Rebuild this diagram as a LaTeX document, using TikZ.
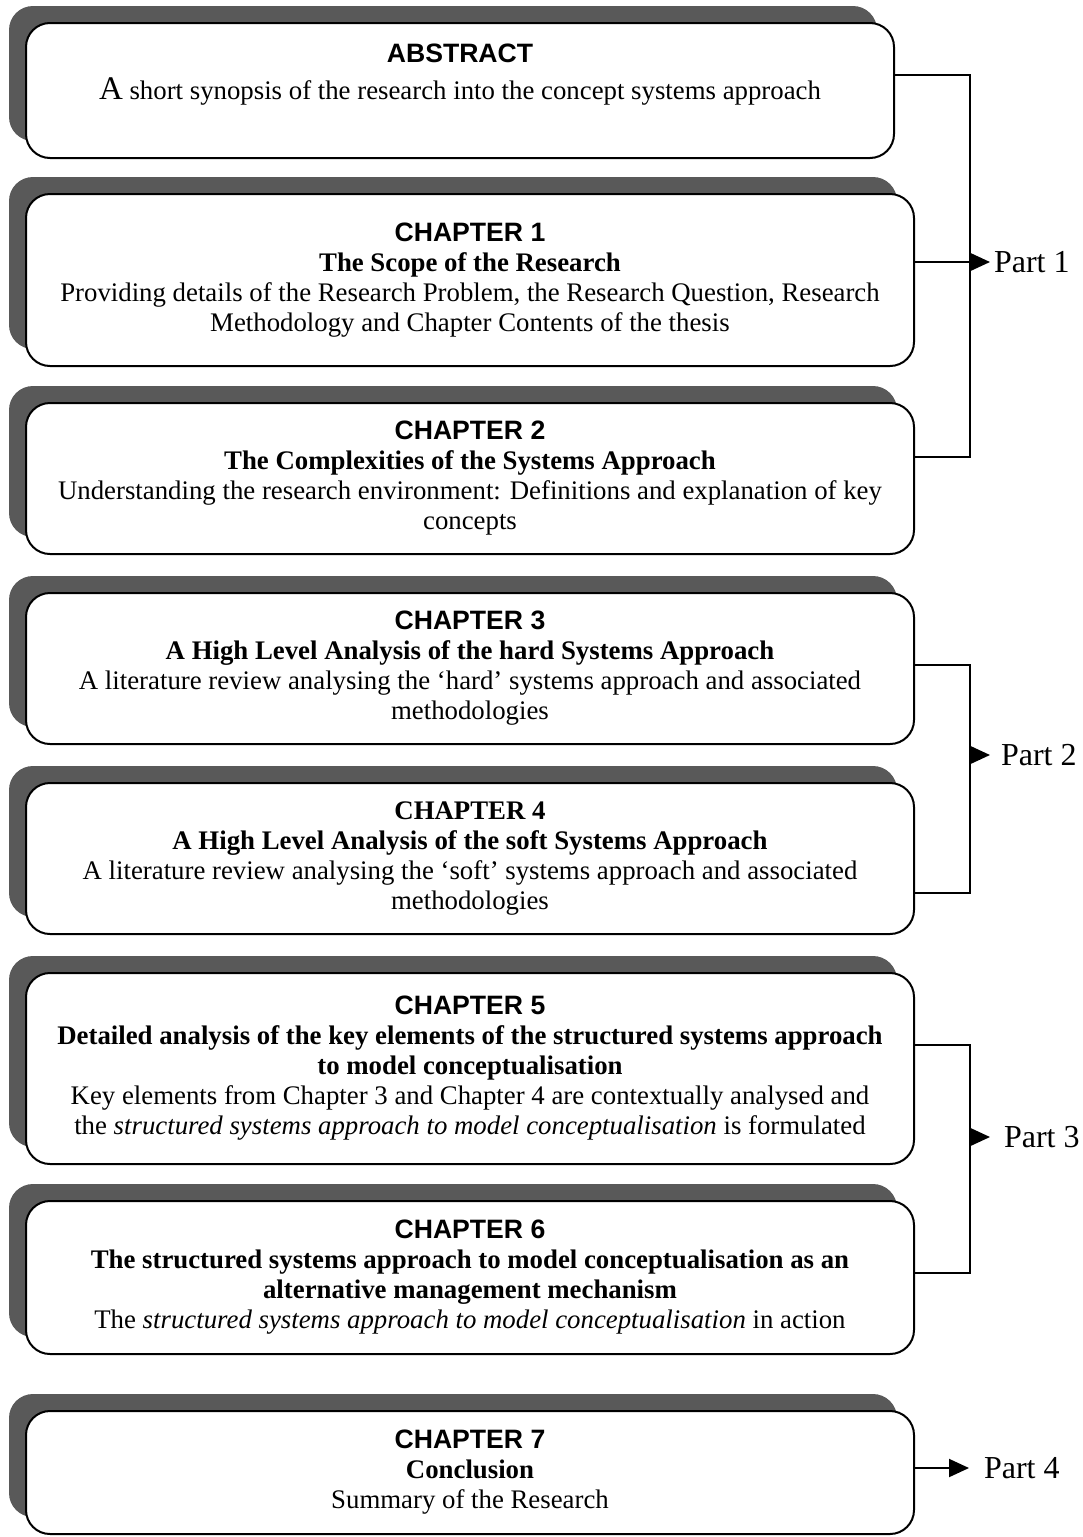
\documentclass[tikz,border=0pt]{standalone}
\usepackage{fontspec}
\setmainfont{Liberation Serif}
\newfontfamily\headfont{Liberation Sans}
\usepackage{tikz}
\usetikzlibrary{arrows.meta,shadows}
\newcommand\chead[1]{{\headfont\bfseries\fontsize{13.3}{15}\selectfont #1}}

\begin{document}
\begin{tikzpicture}[x=0.5pt, y=-0.5pt, line width=1pt, main box/.style={draw, rounded corners=12pt, fill=white, minimum width=444pt, anchor=north west, align=center, inner sep=0pt, font=\fontsize{13.4}{15}\selectfont, general shadow={fill=black!65, shadow xshift=-8.5pt, shadow yshift=8.5pt}}, part node/.style={anchor=west, inner sep=0pt, font=\fontsize{16}{16}\selectfont}, part arrow/.style={-{Triangle[length=10pt,width=9pt]}}]
\useasboundingbox (0,0) rectangle (1082,1537);
\node[main box, minimum width=434pt, minimum height=67.5pt] (abs) at (25,22) {\chead{ABSTRACT}\\[3.5pt] {\fontsize{16.5}{15}\selectfont A} short synopsis of the research into the concept systems approach\\[3.5pt] \mbox{}};
\node[main box, minimum height=86pt] (ch1) at (25,193) {\chead{CHAPTER 1}\\ \textbf{The Scope of the Research}\\ Providing details of the Research Problem, the Research Question, Research\\ Methodology and Chapter Contents of the thesis};
\node[main box, minimum height=75.5pt] (ch2) at (25,402) {\chead{CHAPTER 2}\\ \textbf{The Complexities of the Systems Approach}\\ Understanding the research environment: Definitions and explanation of key\\ concepts};
\node[main box, minimum height=75.5pt] (ch3) at (25,592) {\chead{CHAPTER 3}\\ \textbf{A High Level Analysis of the hard Systems Approach}\\ A literature review analysing the `hard' systems approach and associated\\ methodologies};
\node[main box, minimum height=75.5pt] (ch4) at (25,782) {\textbf{CHAPTER 4}\\ \textbf{A High Level Analysis of the soft Systems Approach}\\ A literature review analysing the `soft' systems approach and associated\\ methodologies};
\node[main box, minimum height=95.5pt] (ch5) at (25,972) {\chead{CHAPTER 5}\\ \textbf{Detailed analysis of the key elements of the structured systems approach}\\ \textbf{to model conceptualisation}\\ Key elements from Chapter 3 and Chapter 4 are contextually analysed and\\ the \textit{structured systems approach to model conceptualisation} is formulated};
\node[main box, minimum height=76.5pt] (ch6) at (25,1200) {\chead{CHAPTER 6}\\ \textbf{The structured systems approach to model conceptualisation as an}\\ \textbf{alternative management mechanism}\\ The \textit{structured systems approach to model conceptualisation} in action};
\node[main box, minimum height=61.5pt] (ch7) at (25,1410) {\chead{CHAPTER 7}\\ \textbf{Conclusion}\\ Summary of the Research};
% part 1
\coordinate (k1) at (970,75);
\coordinate (k2) at (970,457);
\draw (abs.east |- k1) -- (k1) -- (k2) -- (ch2.east |- k2);
\node[part node] (p1) at (993,262) {Part 1};
\draw[part arrow] (ch1.east |- p1.west) -- ([xshift=-1.5pt]p1.west);
% part 2
\coordinate (k3) at (970,665);
\coordinate (k4) at (970,893);
\draw (ch3.east |- k3) -- (k3) -- (k4) -- (ch4.east |- k4);
\node[part node] (p2) at (1000,755) {Part 2};
\draw[part arrow] (k3 |- p2.west) -- ([xshift=-5pt]p2.west);
% part 3
\coordinate (k5) at (970,1045);
\coordinate (k6) at (970,1273);
\draw (ch5.east |- k5) -- (k5) -- (k6) -- (ch6.east |- k6);
\node[part node] (p3) at (1003,1137) {Part 3};
\draw[part arrow] (k5 |- p3.west) -- ([xshift=-6.5pt]p3.west);
% part 4
\node[part node] (p4) at (983,1468) {Part 4};
\draw[part arrow] (ch7.east |- p4.west) -- ([xshift=-7pt]p4.west);
\end{tikzpicture}
\end{document}
